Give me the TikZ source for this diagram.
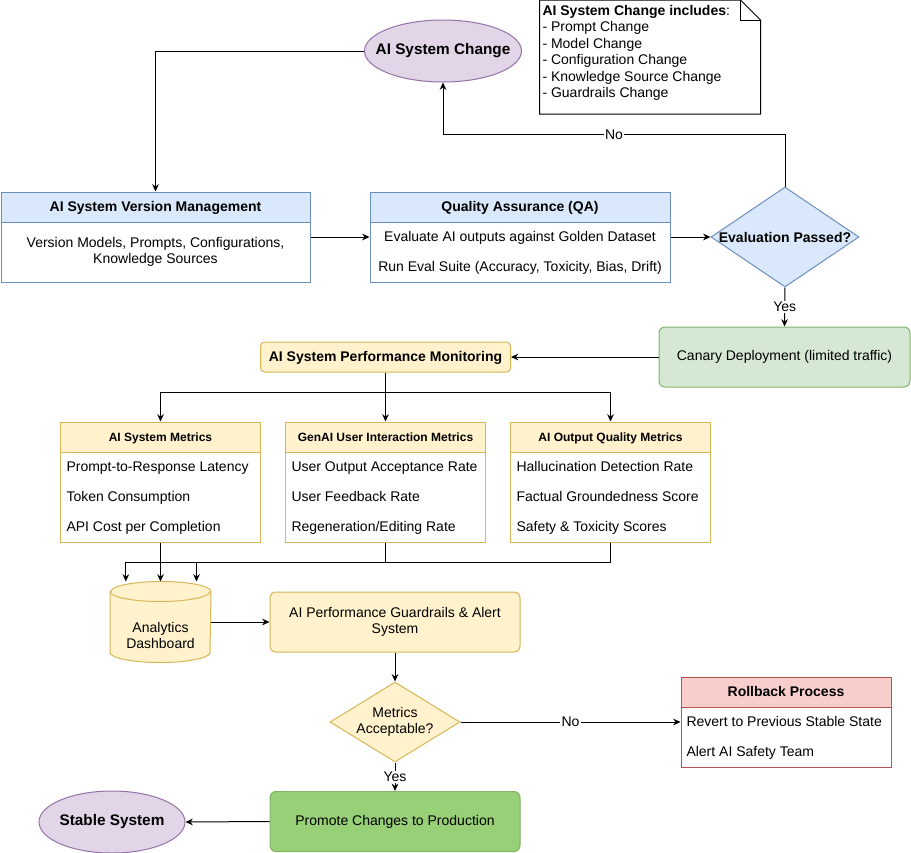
\documentclass[tikz,border=0pt]{standalone}
\usepackage{fontspec}
\setmainfont{Liberation Sans}
\usetikzlibrary{shapes.geometric, arrows.meta}

\definecolor{purpleFill}{HTML}{E1D5E7}
\definecolor{purpleLine}{HTML}{9673A6}
\definecolor{blueFill}{HTML}{DAE8FC}
\definecolor{blueLine}{HTML}{6C8EBF}
\definecolor{greenFill}{HTML}{D5E8D4}
\definecolor{greenLine}{HTML}{82B366}
\definecolor{promoteFill}{HTML}{97D077}
\definecolor{yellowFill}{HTML}{FFF2CC}
\definecolor{yellowLine}{HTML}{D6B656}
\definecolor{redFill}{HTML}{F8CECC}
\definecolor{redLine}{HTML}{B85450}

\begin{document}
\begin{tikzpicture}[x=0.75pt, y=-0.75pt, line width=0.75pt,
	state/.style={ellipse, draw=purpleLine, fill=purpleFill, inner sep=0pt, minimum height=46.5pt, label={[font=\bfseries\fontsize{11.5}{13}\selectfont, inner sep=0pt]center:#1}},
	head/.style={draw, rectangle, inner sep=0pt, minimum height=22.5pt, text height=7.3pt, text depth=0pt, font=\bfseries\fontsize{10.5}{12}\selectfont},
	smallhead/.style={head, text height=6.3pt, font=\bfseries\fontsize{9}{11}\selectfont},
	listbody/.style={draw, fill=white, rectangle, inner sep=0pt},
	item/.style={inner sep=0pt, text height=7.3pt, text depth=0pt, font=\fontsize{10.5}{12}\selectfont},
	roundbox/.style={draw, rectangle, rounded corners=4.5pt, inner sep=0pt, align=center, font=\fontsize{10.5}{12}\selectfont},
	decision/.style={diamond, draw, inner sep=0pt, align=center},
	arrow/.style={-{Stealth[length=5.5pt, width=5pt]}},
	lbl/.style={fill=white, inner sep=1pt, font=\fontsize{10.5}{12}\selectfont}
	]
			\path[use as bounding box, fill=white] (0,0) rectangle (911,853);

			% top: change request and note
			\node[state=AI System Change, minimum width=117.75pt] (change) at (443,51) {};
			\node[minimum width=165pt, minimum height=84.75pt, inner sep=0pt] (note) at (650,57) {};
			\draw[fill=white] (note.north west) -- ([xshift=-15pt]note.north east) -- ([yshift=-15pt]note.north east) -- (note.south east) -- (note.south west) -- cycle;
			\draw ([xshift=-15pt]note.north east) -- ([xshift=-15pt, yshift=-15pt]note.north east) -- ([yshift=-15pt]note.north east);
			\node[inner sep=0pt, anchor=north west, align=left, font=\fontsize{10.5}{12.4}\selectfont] (noteText) at (542,4.5) {\textbf{AI System Change includes}:\\- Prompt Change\\- Model Change\\- Configuration Change\\- Knowledge Source Change\\- Guardrails Change};

			% versioning and QA
			\node[head, draw=blueLine, fill=blueFill, minimum width=231.75pt] (vmHead) at (155.5,207) {AI System Version Management};
			\node[listbody, draw=blueLine, minimum width=231.75pt, minimum height=45pt, align=center, font=\fontsize{10.5}{12}\selectfont] (vmBody) at (155.5,252) {Version Models, Prompts, Configurations,\\Knowledge Sources};
			\node[head, draw=blueLine, fill=blueFill, minimum width=225pt] (qaHead) at (520,207) {Quality Assurance (QA)};
			\node[listbody, draw=blueLine, minimum width=225pt, minimum height=45pt] (qaBody) at (520,252) {};
			\node[item] (qa1) at (520,237) {Evaluate AI outputs against Golden Dataset};
			\node[item] (qa2) at (520,267) {Run Eval Suite (Accuracy, Toxicity, Bias, Drift)};
			\node[decision, draw=blueLine, fill=blueFill, aspect=1.48, minimum width=111pt, minimum height=75pt, font=\bfseries\fontsize{10.5}{12}\selectfont] (eval) at (785,237) {Evaluation Passed?};

			% deployment and monitoring
			\node[roundbox, draw=greenLine, fill=greenFill, minimum width=188.25pt, minimum height=45pt] (canary) at (784.5,357) {Canary Deployment (limited traffic)};
			\node[roundbox, rounded corners=3pt, draw=yellowLine, fill=yellowFill, minimum width=187.5pt, minimum height=22.5pt, text height=7.3pt, text depth=0pt, font=\bfseries\fontsize{10.5}{12}\selectfont] (mon) at (385.5,357) {AI System Performance Monitoring};

			\node[smallhead, draw=yellowLine, fill=yellowFill, minimum width=150pt] (sysHead) at (160.5,437) {AI System Metrics};
			\node[listbody, draw=yellowLine, minimum width=150pt, minimum height=67.5pt] (sysBody) at (160.5,497) {};
			\node[item, anchor=west] (sys1) at (66,467) {Prompt-to-Response Latency};
			\node[item, anchor=west] (sys2) at (66,497) {Token Consumption};
			\node[item, anchor=west] (sys3) at (66,527) {API Cost per Completion};

			\node[smallhead, draw=yellowLine, fill=yellowFill, minimum width=150pt] (userHead) at (385.5,437) {GenAI User Interaction Metrics};
			\node[listbody, draw=yellowLine, minimum width=150pt, minimum height=67.5pt] (userBody) at (385.5,497) {};
			\node[item, anchor=west] (user1) at (291,467) {User Output Acceptance Rate};
			\node[item, anchor=west] (user2) at (291,497) {User Feedback Rate};
			\node[item, anchor=west] (user3) at (291,527) {Regeneration/Editing Rate};

			\node[smallhead, draw=yellowLine, fill=yellowFill, minimum width=150pt] (outHead) at (610.5,437) {AI Output Quality Metrics};
			\node[listbody, draw=yellowLine, minimum width=150pt, minimum height=67.5pt] (outBody) at (610.5,497) {};
			\node[item, anchor=west] (out1) at (516,467) {Hallucination Detection Rate};
			\node[item, anchor=west] (out2) at (516,497) {Factual Groundedness Score};
			\node[item, anchor=west] (out3) at (516,527) {Safety \& Toxicity Scores};

			% dashboard cylinder
			\node[minimum width=75pt, minimum height=60pt, inner sep=0pt] (dash) at (160.5,622) {};
			\filldraw[draw=yellowLine, fill=yellowFill] ([yshift=-7.5pt]dash.north west) -- ([yshift=7.5pt]dash.south west) arc[start angle=180, end angle=360, x radius=37.5pt, y radius=7.5pt] -- ([yshift=-7.5pt]dash.north east) arc[start angle=0, end angle=180, x radius=37.5pt, y radius=7.5pt] -- cycle;
			\draw[yellowLine] ([yshift=-7.5pt]dash.north west) arc[start angle=180, end angle=360, x radius=37.5pt, y radius=7.5pt];
			\node[align=center, inner sep=0pt, font=\fontsize{10.5}{12}\selectfont] (dashText) at (160.5,635) {Analytics\\Dashboard};

			\node[roundbox, draw=yellowLine, fill=yellowFill, minimum width=187.5pt, minimum height=45pt] (guard) at (395,622) {AI Performance Guardrails \& Alert\\System};
			\node[decision, draw=yellowLine, fill=yellowFill, aspect=1.625, minimum width=97.5pt, minimum height=60pt, font=\fontsize{10.5}{12}\selectfont] (acc) at (395,722) {Metrics\\Acceptable?};

			\node[head, draw=redLine, fill=redFill, minimum width=157.5pt] (rbHead) at (786,692) {Rollback Process};
			\node[listbody, draw=redLine, minimum width=157.5pt, minimum height=45pt] (rbBody) at (786,737) {};
			\node[item, anchor=west] (rb1) at (686,722) {Revert to Previous Stable State};
			\node[item, anchor=west] (rb2) at (686,752) {Alert AI Safety Team};

			\node[roundbox, draw=greenLine, fill=promoteFill, minimum width=187.5pt, minimum height=45pt] (promote) at (395,821.5) {Promote Changes to Production};
			\node[state=Stable System, minimum width=109.5pt] (stable) at (112,822) {};

			% connectors
			\draw[arrow] (change.west) -| (vmHead.north);
			\draw[arrow] (vmBody.east |- qa1) -- (qa1 -| qaBody.west);
			\draw[arrow] (qa1 -| qaBody.east) -- (eval.west);
			\draw[arrow] (eval.north) -- ++(0,-52) -| node[lbl, pos=0.25] {No} (change.south);
			\draw[arrow] (eval.south) -- node[lbl] {Yes} (canary.north);
			\draw[arrow] (canary.west) -- (mon.east);
			\draw[arrow] (mon.south) -- ++(0,20) -| (sysHead.north);
			\draw[arrow] (mon.south) -- (userHead.north);
			\draw[arrow] (mon.south) -- ++(0,20) -| (outHead.north);
			\draw[arrow] (sysBody.south) -- (dash.north);
			\draw[arrow] (userBody.south) -- ++(0,20) -| ([xshift=-26pt]dash.north);
			\draw[arrow] (outBody.south) -- ++(0,20) -| ([xshift=27pt]dash.north);
			\draw[arrow] (dash.east) -- (guard.west);
			\draw[arrow] (guard.south) -- (acc.north);
			\draw[arrow] (acc.east) -- node[lbl] {No} (acc.east -| rbBody.west);
			\draw[arrow] (acc.south) -- node[lbl] {Yes} (promote.north);
			\draw[arrow] (promote.west) -- (stable.east);
\end{tikzpicture}
\end{document}
